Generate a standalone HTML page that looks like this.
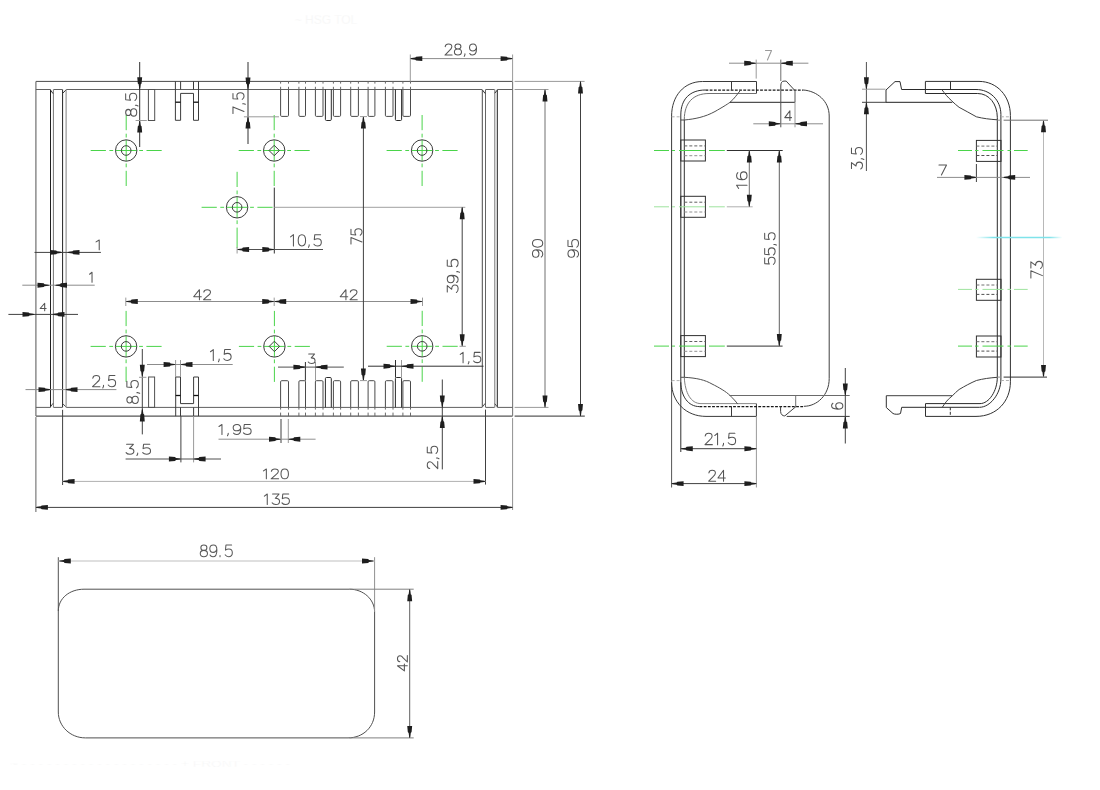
<!DOCTYPE html>
<html><head><meta charset="utf-8"><title>drawing</title>
<style>
html,body{margin:0;padding:0;background:#ffffff;}
body{width:1100px;height:790px;overflow:hidden;}
svg{display:block;}
text{font-family:"Liberation Sans",sans-serif;stroke:#fff;stroke-width:0.4px;}
.tx{opacity:0.995}
</style></head><body>
<svg width="1100" height="790" viewBox="0 0 1100 790">
<defs><linearGradient id="cy" x1="976" y1="0" x2="1062.5" y2="0" gradientUnits="userSpaceOnUse">
<stop offset="0" stop-color="#7fe3ea" stop-opacity="0"/><stop offset="0.2" stop-color="#7fe3ea" stop-opacity="1"/>
<stop offset="0.85" stop-color="#7fe3ea" stop-opacity="1"/><stop offset="1" stop-color="#7fe3ea" stop-opacity="0"/></linearGradient></defs>
<rect x="0" y="0" width="1100" height="790" fill="#ffffff"/>
<line x1="35.9" y1="81.4" x2="512.6" y2="81.4" stroke="#4a4a4a" stroke-width="1"/>
<line x1="35.9" y1="416.1" x2="512.6" y2="416.1" stroke="#2a2a2a" stroke-width="1"/>
<line x1="35.9" y1="81.4" x2="35.9" y2="416.1" stroke="#707070" stroke-width="1.2"/>
<line x1="512.6" y1="81.4" x2="512.6" y2="416.1" stroke="#7a7a7a" stroke-width="1.1"/>
<line x1="35.9" y1="89.5" x2="50.3" y2="89.5" stroke="#606060" stroke-width="1"/>
<line x1="35.9" y1="407.4" x2="50.3" y2="407.4" stroke="#606060" stroke-width="1"/>
<line x1="53.5" y1="89.5" x2="62.3" y2="89.5" stroke="#606060" stroke-width="1"/>
<line x1="53.5" y1="407.4" x2="62.3" y2="407.4" stroke="#606060" stroke-width="1"/>
<line x1="66.2" y1="89.5" x2="482" y2="89.5" stroke="#606060" stroke-width="1"/>
<line x1="66.2" y1="407.4" x2="482" y2="407.4" stroke="#606060" stroke-width="1"/>
<line x1="485.7" y1="89.5" x2="494.6" y2="89.5" stroke="#606060" stroke-width="1"/>
<line x1="485.7" y1="407.4" x2="494.6" y2="407.4" stroke="#606060" stroke-width="1"/>
<line x1="497.5" y1="89.5" x2="512.6" y2="89.5" stroke="#606060" stroke-width="1"/>
<line x1="497.5" y1="407.4" x2="512.6" y2="407.4" stroke="#606060" stroke-width="1"/>
<line x1="50.5" y1="89.5" x2="50.5" y2="407.4" stroke="#202020" stroke-width="1"/>
<line x1="53.4" y1="89.5" x2="53.4" y2="407.4" stroke="#777777" stroke-width="1"/>
<line x1="62.6" y1="89.5" x2="62.6" y2="407.4" stroke="#202020" stroke-width="1"/>
<line x1="66.1" y1="89.5" x2="66.1" y2="407.4" stroke="#808080" stroke-width="1"/>
<line x1="482.3" y1="89.5" x2="482.3" y2="407.4" stroke="#4a4a4a" stroke-width="1"/>
<line x1="485.5" y1="89.5" x2="485.5" y2="407.4" stroke="#666666" stroke-width="1"/>
<line x1="494.8" y1="89.5" x2="494.8" y2="407.4" stroke="#777777" stroke-width="1"/>
<line x1="497.3" y1="89.5" x2="497.3" y2="407.4" stroke="#202020" stroke-width="1"/>
<line x1="50.7" y1="90.2" x2="53" y2="93.6" stroke="#303030" stroke-width="1"/>
<line x1="50.7" y1="406.7" x2="53" y2="403.3" stroke="#505050" stroke-width="1"/>
<line x1="62.8" y1="93.2" x2="65.7" y2="90.2" stroke="#303030" stroke-width="1"/>
<line x1="62.8" y1="403.7" x2="65.7" y2="406.7" stroke="#505050" stroke-width="1"/>
<line x1="482.7" y1="90.2" x2="485.1" y2="93.5" stroke="#303030" stroke-width="1"/>
<line x1="482.7" y1="406.7" x2="485.1" y2="403.4" stroke="#505050" stroke-width="1"/>
<line x1="494.8" y1="93.2" x2="497.2" y2="90.2" stroke="#303030" stroke-width="1"/>
<line x1="494.8" y1="403.7" x2="497.2" y2="406.7" stroke="#505050" stroke-width="1"/>
<path d="M280.6,89.5 V115.3 Q280.6,116.4 281.7,116.4 H287.4 Q288.5,116.4 288.5,115.3 V89.5" fill="none" stroke="#4a4a4a" stroke-width="1"/>
<line x1="280.6" y1="81.4" x2="280.6" y2="83.6" stroke="#6a6a6a" stroke-width="1"/>
<line x1="280.6" y1="86.8" x2="280.6" y2="89.5" stroke="#6a6a6a" stroke-width="1"/>
<line x1="288.5" y1="81.4" x2="288.5" y2="83.6" stroke="#6a6a6a" stroke-width="1"/>
<line x1="288.5" y1="86.8" x2="288.5" y2="89.5" stroke="#6a6a6a" stroke-width="1"/>
<path d="M280.6,407.4 V381.8 Q280.6,380.7 281.7,380.7 H287.4 Q288.5,380.7 288.5,381.8 V407.4" fill="none" stroke="#4a4a4a" stroke-width="1"/>
<line x1="280.6" y1="407.4" x2="280.6" y2="409.6" stroke="#6a6a6a" stroke-width="1"/>
<line x1="280.6" y1="412.6" x2="280.6" y2="416.1" stroke="#6a6a6a" stroke-width="1"/>
<line x1="288.5" y1="407.4" x2="288.5" y2="409.6" stroke="#6a6a6a" stroke-width="1"/>
<line x1="288.5" y1="412.6" x2="288.5" y2="416.1" stroke="#6a6a6a" stroke-width="1"/>
<path d="M298.9,89.5 V115.3 Q298.9,116.4 300,116.4 H304.4 Q305.5,116.4 305.5,115.3 V89.5" fill="none" stroke="#4a4a4a" stroke-width="1"/>
<line x1="298.9" y1="81.4" x2="298.9" y2="83.6" stroke="#6a6a6a" stroke-width="1"/>
<line x1="298.9" y1="86.8" x2="298.9" y2="89.5" stroke="#6a6a6a" stroke-width="1"/>
<line x1="305.5" y1="81.4" x2="305.5" y2="83.6" stroke="#6a6a6a" stroke-width="1"/>
<line x1="305.5" y1="86.8" x2="305.5" y2="89.5" stroke="#6a6a6a" stroke-width="1"/>
<path d="M298.9,407.4 V381.8 Q298.9,380.7 300,380.7 H304.4 Q305.5,380.7 305.5,381.8 V407.4" fill="none" stroke="#4a4a4a" stroke-width="1"/>
<line x1="298.9" y1="407.4" x2="298.9" y2="409.6" stroke="#6a6a6a" stroke-width="1"/>
<line x1="298.9" y1="412.6" x2="298.9" y2="416.1" stroke="#6a6a6a" stroke-width="1"/>
<line x1="305.5" y1="407.4" x2="305.5" y2="409.6" stroke="#6a6a6a" stroke-width="1"/>
<line x1="305.5" y1="412.6" x2="305.5" y2="416.1" stroke="#6a6a6a" stroke-width="1"/>
<path d="M315.4,89.5 V115.3 Q315.4,116.4 316.5,116.4 H321.9 Q323,116.4 323,115.3 V89.5" fill="none" stroke="#4a4a4a" stroke-width="1"/>
<line x1="315.4" y1="81.4" x2="315.4" y2="83.6" stroke="#6a6a6a" stroke-width="1"/>
<line x1="315.4" y1="86.8" x2="315.4" y2="89.5" stroke="#6a6a6a" stroke-width="1"/>
<line x1="323" y1="81.4" x2="323" y2="83.6" stroke="#6a6a6a" stroke-width="1"/>
<line x1="323" y1="86.8" x2="323" y2="89.5" stroke="#6a6a6a" stroke-width="1"/>
<path d="M315.4,407.4 V381.8 Q315.4,380.7 316.5,380.7 H321.9 Q323,380.7 323,381.8 V407.4" fill="none" stroke="#4a4a4a" stroke-width="1"/>
<line x1="315.4" y1="407.4" x2="315.4" y2="409.6" stroke="#6a6a6a" stroke-width="1"/>
<line x1="315.4" y1="412.6" x2="315.4" y2="416.1" stroke="#6a6a6a" stroke-width="1"/>
<line x1="323" y1="407.4" x2="323" y2="409.6" stroke="#6a6a6a" stroke-width="1"/>
<line x1="323" y1="412.6" x2="323" y2="416.1" stroke="#6a6a6a" stroke-width="1"/>
<path d="M325.4,89.5 V119.4 Q325.4,120.5 326.5,120.5 H330.2 Q331.3,120.5 331.3,119.4 V89.5" fill="none" stroke="#2a2a2a" stroke-width="1"/>
<path d="M325.4,407.4 V378.6 Q325.4,377.5 326.5,377.5 H330.2 Q331.3,377.5 331.3,378.6 V407.4" fill="none" stroke="#2a2a2a" stroke-width="1"/>
<path d="M333.4,89.5 V115.3 Q333.4,116.4 334.5,116.4 H339.5 Q340.6,116.4 340.6,115.3 V89.5" fill="none" stroke="#4a4a4a" stroke-width="1"/>
<line x1="333.4" y1="81.4" x2="333.4" y2="83.6" stroke="#6a6a6a" stroke-width="1"/>
<line x1="333.4" y1="86.8" x2="333.4" y2="89.5" stroke="#6a6a6a" stroke-width="1"/>
<line x1="340.6" y1="81.4" x2="340.6" y2="83.6" stroke="#6a6a6a" stroke-width="1"/>
<line x1="340.6" y1="86.8" x2="340.6" y2="89.5" stroke="#6a6a6a" stroke-width="1"/>
<path d="M333.4,407.4 V381.8 Q333.4,380.7 334.5,380.7 H339.5 Q340.6,380.7 340.6,381.8 V407.4" fill="none" stroke="#4a4a4a" stroke-width="1"/>
<line x1="333.4" y1="407.4" x2="333.4" y2="409.6" stroke="#6a6a6a" stroke-width="1"/>
<line x1="333.4" y1="412.6" x2="333.4" y2="416.1" stroke="#6a6a6a" stroke-width="1"/>
<line x1="340.6" y1="407.4" x2="340.6" y2="409.6" stroke="#6a6a6a" stroke-width="1"/>
<line x1="340.6" y1="412.6" x2="340.6" y2="416.1" stroke="#6a6a6a" stroke-width="1"/>
<path d="M350.7,89.5 V115.3 Q350.7,116.4 351.8,116.4 H357.3 Q358.4,116.4 358.4,115.3 V89.5" fill="none" stroke="#4a4a4a" stroke-width="1"/>
<line x1="350.7" y1="81.4" x2="350.7" y2="83.6" stroke="#6a6a6a" stroke-width="1"/>
<line x1="350.7" y1="86.8" x2="350.7" y2="89.5" stroke="#6a6a6a" stroke-width="1"/>
<line x1="358.4" y1="81.4" x2="358.4" y2="83.6" stroke="#6a6a6a" stroke-width="1"/>
<line x1="358.4" y1="86.8" x2="358.4" y2="89.5" stroke="#6a6a6a" stroke-width="1"/>
<path d="M350.7,407.4 V381.8 Q350.7,380.7 351.8,380.7 H357.3 Q358.4,380.7 358.4,381.8 V407.4" fill="none" stroke="#4a4a4a" stroke-width="1"/>
<line x1="350.7" y1="407.4" x2="350.7" y2="409.6" stroke="#6a6a6a" stroke-width="1"/>
<line x1="350.7" y1="412.6" x2="350.7" y2="416.1" stroke="#6a6a6a" stroke-width="1"/>
<line x1="358.4" y1="407.4" x2="358.4" y2="409.6" stroke="#6a6a6a" stroke-width="1"/>
<line x1="358.4" y1="412.6" x2="358.4" y2="416.1" stroke="#6a6a6a" stroke-width="1"/>
<path d="M368.1,89.5 V115.3 Q368.1,116.4 369.2,116.4 H373.8 Q374.9,116.4 374.9,115.3 V89.5" fill="none" stroke="#4a4a4a" stroke-width="1"/>
<line x1="368.1" y1="81.4" x2="368.1" y2="83.6" stroke="#6a6a6a" stroke-width="1"/>
<line x1="368.1" y1="86.8" x2="368.1" y2="89.5" stroke="#6a6a6a" stroke-width="1"/>
<line x1="374.9" y1="81.4" x2="374.9" y2="83.6" stroke="#6a6a6a" stroke-width="1"/>
<line x1="374.9" y1="86.8" x2="374.9" y2="89.5" stroke="#6a6a6a" stroke-width="1"/>
<path d="M368.1,407.4 V381.8 Q368.1,380.7 369.2,380.7 H373.8 Q374.9,380.7 374.9,381.8 V407.4" fill="none" stroke="#4a4a4a" stroke-width="1"/>
<line x1="368.1" y1="407.4" x2="368.1" y2="409.6" stroke="#6a6a6a" stroke-width="1"/>
<line x1="368.1" y1="412.6" x2="368.1" y2="416.1" stroke="#6a6a6a" stroke-width="1"/>
<line x1="374.9" y1="407.4" x2="374.9" y2="409.6" stroke="#6a6a6a" stroke-width="1"/>
<line x1="374.9" y1="412.6" x2="374.9" y2="416.1" stroke="#6a6a6a" stroke-width="1"/>
<path d="M385.4,89.5 V115.3 Q385.4,116.4 386.5,116.4 H391.9 Q393,116.4 393,115.3 V89.5" fill="none" stroke="#4a4a4a" stroke-width="1"/>
<line x1="385.4" y1="81.4" x2="385.4" y2="83.6" stroke="#6a6a6a" stroke-width="1"/>
<line x1="385.4" y1="86.8" x2="385.4" y2="89.5" stroke="#6a6a6a" stroke-width="1"/>
<line x1="393" y1="81.4" x2="393" y2="83.6" stroke="#6a6a6a" stroke-width="1"/>
<line x1="393" y1="86.8" x2="393" y2="89.5" stroke="#6a6a6a" stroke-width="1"/>
<path d="M385.4,407.4 V381.8 Q385.4,380.7 386.5,380.7 H391.9 Q393,380.7 393,381.8 V407.4" fill="none" stroke="#4a4a4a" stroke-width="1"/>
<line x1="385.4" y1="407.4" x2="385.4" y2="409.6" stroke="#6a6a6a" stroke-width="1"/>
<line x1="385.4" y1="412.6" x2="385.4" y2="416.1" stroke="#6a6a6a" stroke-width="1"/>
<line x1="393" y1="407.4" x2="393" y2="409.6" stroke="#6a6a6a" stroke-width="1"/>
<line x1="393" y1="412.6" x2="393" y2="416.1" stroke="#6a6a6a" stroke-width="1"/>
<path d="M395.4,89.5 V119.4 Q395.4,120.5 396.5,120.5 H400.5 Q401.6,120.5 401.6,119.4 V89.5" fill="none" stroke="#2a2a2a" stroke-width="1"/>
<path d="M395.4,407.4 V378.6 Q395.4,377.5 396.5,377.5 H400.5 Q401.6,377.5 401.6,378.6 V407.4" fill="none" stroke="#2a2a2a" stroke-width="1"/>
<path d="M402.9,89.5 V115.3 Q402.9,116.4 404,116.4 H409.4 Q410.5,116.4 410.5,115.3 V89.5" fill="none" stroke="#4a4a4a" stroke-width="1"/>
<line x1="402.9" y1="81.4" x2="402.9" y2="83.6" stroke="#6a6a6a" stroke-width="1"/>
<line x1="402.9" y1="86.8" x2="402.9" y2="89.5" stroke="#6a6a6a" stroke-width="1"/>
<line x1="410.5" y1="81.4" x2="410.5" y2="83.6" stroke="#6a6a6a" stroke-width="1"/>
<line x1="410.5" y1="86.8" x2="410.5" y2="89.5" stroke="#6a6a6a" stroke-width="1"/>
<path d="M402.9,407.4 V381.8 Q402.9,380.7 404,380.7 H409.4 Q410.5,380.7 410.5,381.8 V407.4" fill="none" stroke="#4a4a4a" stroke-width="1"/>
<line x1="402.9" y1="407.4" x2="402.9" y2="409.6" stroke="#6a6a6a" stroke-width="1"/>
<line x1="402.9" y1="412.6" x2="402.9" y2="416.1" stroke="#6a6a6a" stroke-width="1"/>
<line x1="410.5" y1="407.4" x2="410.5" y2="409.6" stroke="#6a6a6a" stroke-width="1"/>
<line x1="410.5" y1="412.6" x2="410.5" y2="416.1" stroke="#6a6a6a" stroke-width="1"/>
<rect x="148.4" y="89.5" width="6.3" height="31" fill="none" stroke="#505050" stroke-width="1"/>
<rect x="148.6" y="377" width="6.0" height="30.4" fill="none" stroke="#505050" stroke-width="1"/>
<line x1="175.4" y1="81.4" x2="175.4" y2="120.3" stroke="#3c3c3c" stroke-width="1"/>
<line x1="198.5" y1="81.4" x2="198.5" y2="120.3" stroke="#3c3c3c" stroke-width="1"/>
<line x1="175.4" y1="120.3" x2="180.6" y2="120.3" stroke="#3c3c3c" stroke-width="1"/>
<line x1="193.5" y1="120.3" x2="198.5" y2="120.3" stroke="#3c3c3c" stroke-width="1"/>
<line x1="180.6" y1="81.4" x2="180.6" y2="89.5" stroke="#3c3c3c" stroke-width="1"/>
<line x1="193.5" y1="81.4" x2="193.5" y2="89.5" stroke="#3c3c3c" stroke-width="1"/>
<line x1="180.6" y1="93.4" x2="180.6" y2="120.3" stroke="#3c3c3c" stroke-width="1"/>
<line x1="193.5" y1="93.4" x2="193.5" y2="120.3" stroke="#3c3c3c" stroke-width="1"/>
<line x1="180.6" y1="93.4" x2="193.5" y2="93.4" stroke="#3c3c3c" stroke-width="1"/>
<line x1="175.4" y1="102.2" x2="180.6" y2="102.2" stroke="#101010" stroke-width="1.3"/>
<line x1="193.5" y1="102.2" x2="198.5" y2="102.2" stroke="#101010" stroke-width="1.3"/>
<line x1="175.7" y1="416.1" x2="175.7" y2="377" stroke="#3c3c3c" stroke-width="1"/>
<line x1="198.5" y1="416.1" x2="198.5" y2="377" stroke="#3c3c3c" stroke-width="1"/>
<line x1="175.7" y1="377" x2="180.5" y2="377" stroke="#3c3c3c" stroke-width="1"/>
<line x1="193.6" y1="377" x2="198.5" y2="377" stroke="#3c3c3c" stroke-width="1"/>
<line x1="180.5" y1="416.1" x2="180.5" y2="407.4" stroke="#3c3c3c" stroke-width="1"/>
<line x1="193.6" y1="416.1" x2="193.6" y2="407.4" stroke="#3c3c3c" stroke-width="1"/>
<line x1="180.5" y1="403.6" x2="180.5" y2="377" stroke="#3c3c3c" stroke-width="1"/>
<line x1="193.6" y1="403.6" x2="193.6" y2="377" stroke="#3c3c3c" stroke-width="1"/>
<line x1="180.5" y1="403.6" x2="193.6" y2="403.6" stroke="#3c3c3c" stroke-width="1"/>
<line x1="175.7" y1="395.5" x2="180.5" y2="395.5" stroke="#101010" stroke-width="1.3"/>
<line x1="193.6" y1="395.5" x2="198.5" y2="395.5" stroke="#101010" stroke-width="1.3"/>
<line x1="115.5" y1="150.5" x2="136.9" y2="150.5" stroke="#4ad44a" stroke-width="1"/>
<line x1="139.2" y1="150.5" x2="143" y2="150.5" stroke="#4ad44a" stroke-width="1"/>
<line x1="146.5" y1="150.5" x2="161.7" y2="150.5" stroke="#4ad44a" stroke-width="1"/>
<line x1="109.4" y1="150.5" x2="113.2" y2="150.5" stroke="#4ad44a" stroke-width="1"/>
<line x1="90.7" y1="150.5" x2="105.9" y2="150.5" stroke="#4ad44a" stroke-width="1"/>
<line x1="126.2" y1="139.8" x2="126.2" y2="161.2" stroke="#4ad44a" stroke-width="1"/>
<line x1="126.2" y1="163.5" x2="126.2" y2="167.3" stroke="#4ad44a" stroke-width="1"/>
<line x1="126.2" y1="170.8" x2="126.2" y2="186" stroke="#4ad44a" stroke-width="1"/>
<line x1="126.2" y1="133.7" x2="126.2" y2="137.5" stroke="#4ad44a" stroke-width="1"/>
<line x1="126.2" y1="115" x2="126.2" y2="130.2" stroke="#4ad44a" stroke-width="1"/>
<circle cx="126.2" cy="150.5" r="10.7" fill="none" stroke="#3c3c3c" stroke-width="1"/>
<circle cx="126.2" cy="150.5" r="4.8" fill="none" stroke="#3c3c3c" stroke-width="1"/>
<line x1="263.5" y1="150.5" x2="284.9" y2="150.5" stroke="#4ad44a" stroke-width="1"/>
<line x1="287.2" y1="150.5" x2="291" y2="150.5" stroke="#4ad44a" stroke-width="1"/>
<line x1="294.5" y1="150.5" x2="309.7" y2="150.5" stroke="#4ad44a" stroke-width="1"/>
<line x1="257.4" y1="150.5" x2="261.2" y2="150.5" stroke="#4ad44a" stroke-width="1"/>
<line x1="238.7" y1="150.5" x2="253.9" y2="150.5" stroke="#4ad44a" stroke-width="1"/>
<line x1="274.2" y1="139.8" x2="274.2" y2="161.2" stroke="#4ad44a" stroke-width="1"/>
<line x1="274.2" y1="163.5" x2="274.2" y2="167.3" stroke="#4ad44a" stroke-width="1"/>
<line x1="274.2" y1="170.8" x2="274.2" y2="186" stroke="#4ad44a" stroke-width="1"/>
<line x1="274.2" y1="133.7" x2="274.2" y2="137.5" stroke="#4ad44a" stroke-width="1"/>
<line x1="274.2" y1="115" x2="274.2" y2="130.2" stroke="#4ad44a" stroke-width="1"/>
<circle cx="274.2" cy="150.5" r="10.7" fill="none" stroke="#3c3c3c" stroke-width="1"/>
<polygon points="274.2,145.3 279.4,150.5 274.2,155.7 269,150.5" fill="none" stroke="#3c3c3c" stroke-width="1"/>
<line x1="411.4" y1="150.5" x2="432.8" y2="150.5" stroke="#4ad44a" stroke-width="1"/>
<line x1="435.1" y1="150.5" x2="438.9" y2="150.5" stroke="#4ad44a" stroke-width="1"/>
<line x1="442.4" y1="150.5" x2="457.6" y2="150.5" stroke="#4ad44a" stroke-width="1"/>
<line x1="405.3" y1="150.5" x2="409.1" y2="150.5" stroke="#4ad44a" stroke-width="1"/>
<line x1="386.6" y1="150.5" x2="401.8" y2="150.5" stroke="#4ad44a" stroke-width="1"/>
<line x1="422.1" y1="139.8" x2="422.1" y2="161.2" stroke="#4ad44a" stroke-width="1"/>
<line x1="422.1" y1="163.5" x2="422.1" y2="167.3" stroke="#4ad44a" stroke-width="1"/>
<line x1="422.1" y1="170.8" x2="422.1" y2="186" stroke="#4ad44a" stroke-width="1"/>
<line x1="422.1" y1="133.7" x2="422.1" y2="137.5" stroke="#4ad44a" stroke-width="1"/>
<line x1="422.1" y1="115" x2="422.1" y2="130.2" stroke="#4ad44a" stroke-width="1"/>
<circle cx="422.1" cy="150.5" r="10.7" fill="none" stroke="#3c3c3c" stroke-width="1"/>
<circle cx="422.1" cy="150.5" r="4.8" fill="none" stroke="#3c3c3c" stroke-width="1"/>
<line x1="226.4" y1="207.3" x2="247.8" y2="207.3" stroke="#4ad44a" stroke-width="1"/>
<line x1="250.1" y1="207.3" x2="253.9" y2="207.3" stroke="#4ad44a" stroke-width="1"/>
<line x1="257.4" y1="207.3" x2="272.6" y2="207.3" stroke="#4ad44a" stroke-width="1"/>
<line x1="220.3" y1="207.3" x2="224.1" y2="207.3" stroke="#4ad44a" stroke-width="1"/>
<line x1="201.6" y1="207.3" x2="216.8" y2="207.3" stroke="#4ad44a" stroke-width="1"/>
<line x1="237.1" y1="196.6" x2="237.1" y2="218" stroke="#4ad44a" stroke-width="1"/>
<line x1="237.1" y1="220.3" x2="237.1" y2="224.1" stroke="#4ad44a" stroke-width="1"/>
<line x1="237.1" y1="227.6" x2="237.1" y2="247.8" stroke="#4ad44a" stroke-width="1"/>
<line x1="237.1" y1="190.5" x2="237.1" y2="194.3" stroke="#4ad44a" stroke-width="1"/>
<line x1="237.1" y1="171.8" x2="237.1" y2="187" stroke="#4ad44a" stroke-width="1"/>
<circle cx="237.1" cy="207.3" r="10.7" fill="none" stroke="#3c3c3c" stroke-width="1"/>
<circle cx="237.1" cy="207.3" r="4.8" fill="none" stroke="#3c3c3c" stroke-width="1"/>
<line x1="115.4" y1="346.4" x2="136.8" y2="346.4" stroke="#4ad44a" stroke-width="1"/>
<line x1="139.1" y1="346.4" x2="142.9" y2="346.4" stroke="#4ad44a" stroke-width="1"/>
<line x1="146.4" y1="346.4" x2="161.6" y2="346.4" stroke="#4ad44a" stroke-width="1"/>
<line x1="109.3" y1="346.4" x2="113.1" y2="346.4" stroke="#4ad44a" stroke-width="1"/>
<line x1="90.6" y1="346.4" x2="105.8" y2="346.4" stroke="#4ad44a" stroke-width="1"/>
<line x1="126.1" y1="335.7" x2="126.1" y2="357.1" stroke="#4ad44a" stroke-width="1"/>
<line x1="126.1" y1="359.4" x2="126.1" y2="363.2" stroke="#4ad44a" stroke-width="1"/>
<line x1="126.1" y1="366.7" x2="126.1" y2="381.9" stroke="#4ad44a" stroke-width="1"/>
<line x1="126.1" y1="329.6" x2="126.1" y2="333.4" stroke="#4ad44a" stroke-width="1"/>
<line x1="126.1" y1="310.9" x2="126.1" y2="326.1" stroke="#4ad44a" stroke-width="1"/>
<circle cx="126.1" cy="346.4" r="10.7" fill="none" stroke="#3c3c3c" stroke-width="1"/>
<circle cx="126.1" cy="346.4" r="4.8" fill="none" stroke="#3c3c3c" stroke-width="1"/>
<line x1="263.7" y1="346.4" x2="285.1" y2="346.4" stroke="#4ad44a" stroke-width="1"/>
<line x1="287.4" y1="346.4" x2="291.2" y2="346.4" stroke="#4ad44a" stroke-width="1"/>
<line x1="294.7" y1="346.4" x2="309.9" y2="346.4" stroke="#4ad44a" stroke-width="1"/>
<line x1="257.6" y1="346.4" x2="261.4" y2="346.4" stroke="#4ad44a" stroke-width="1"/>
<line x1="238.9" y1="346.4" x2="254.1" y2="346.4" stroke="#4ad44a" stroke-width="1"/>
<line x1="274.4" y1="335.7" x2="274.4" y2="357.1" stroke="#4ad44a" stroke-width="1"/>
<line x1="274.4" y1="359.4" x2="274.4" y2="363.2" stroke="#4ad44a" stroke-width="1"/>
<line x1="274.4" y1="366.7" x2="274.4" y2="381.9" stroke="#4ad44a" stroke-width="1"/>
<line x1="274.4" y1="329.6" x2="274.4" y2="333.4" stroke="#4ad44a" stroke-width="1"/>
<line x1="274.4" y1="310.9" x2="274.4" y2="326.1" stroke="#4ad44a" stroke-width="1"/>
<circle cx="274.4" cy="346.4" r="10.7" fill="none" stroke="#3c3c3c" stroke-width="1"/>
<polygon points="274.4,341.2 279.6,346.4 274.4,351.6 269.2,346.4" fill="none" stroke="#3c3c3c" stroke-width="1"/>
<line x1="411.5" y1="346.3" x2="432.9" y2="346.3" stroke="#4ad44a" stroke-width="1"/>
<line x1="435.2" y1="346.3" x2="439" y2="346.3" stroke="#4ad44a" stroke-width="1"/>
<line x1="442.5" y1="346.3" x2="457.7" y2="346.3" stroke="#4ad44a" stroke-width="1"/>
<line x1="405.4" y1="346.3" x2="409.2" y2="346.3" stroke="#4ad44a" stroke-width="1"/>
<line x1="386.7" y1="346.3" x2="401.9" y2="346.3" stroke="#4ad44a" stroke-width="1"/>
<line x1="422.2" y1="335.6" x2="422.2" y2="357" stroke="#4ad44a" stroke-width="1"/>
<line x1="422.2" y1="359.3" x2="422.2" y2="363.1" stroke="#4ad44a" stroke-width="1"/>
<line x1="422.2" y1="366.6" x2="422.2" y2="381.8" stroke="#4ad44a" stroke-width="1"/>
<line x1="422.2" y1="329.5" x2="422.2" y2="333.3" stroke="#4ad44a" stroke-width="1"/>
<line x1="422.2" y1="310.8" x2="422.2" y2="326" stroke="#4ad44a" stroke-width="1"/>
<circle cx="422.2" cy="346.3" r="10.7" fill="none" stroke="#3c3c3c" stroke-width="1"/>
<circle cx="422.2" cy="346.3" r="4.8" fill="none" stroke="#3c3c3c" stroke-width="1"/>
<line x1="410.3" y1="54.5" x2="410.3" y2="81.4" stroke="#9a9a9a" stroke-width="1"/>
<line x1="512.6" y1="54.5" x2="512.6" y2="81.4" stroke="#9a9a9a" stroke-width="1"/>
<line x1="410.3" y1="58.6" x2="512.6" y2="58.6" stroke="#8c8c8c" stroke-width="1"/>
<polygon points="410.3,58.6 411.5,59.15 415.3,59.65 416.1,60.5 422.3,61.05 422.3,56.15 416.1,56.7 415.3,57.55 411.5,58.05" fill="#1e1e1e"/>
<polygon points="512.6,58.6 511.4,59.15 507.6,59.65 506.8,60.5 500.6,61.05 500.6,56.15 506.8,56.7 507.6,57.55 511.4,58.05" fill="#1e1e1e"/>
<line x1="139.7" y1="62" x2="139.7" y2="147" stroke="#303030" stroke-width="1"/>
<polygon points="139.7,89.3 140.25,88.1 140.75,84.3 141.6,83.5 142.15,77.3 137.25,77.3 137.8,83.5 138.65,84.3 139.15,88.1" fill="#1e1e1e"/>
<polygon points="139.7,120.5 140.25,121.7 140.75,125.5 141.6,126.3 142.15,132.5 137.25,132.5 137.8,126.3 138.65,125.5 139.15,121.7" fill="#1e1e1e"/>
<line x1="135.6" y1="120.5" x2="146.8" y2="120.5" stroke="#9a9a9a" stroke-width="1"/>
<line x1="248" y1="62" x2="248" y2="144" stroke="#303030" stroke-width="1"/>
<polygon points="248,89.4 248.55,88.2 249.05,84.4 249.9,83.6 250.45,77.4 245.55,77.4 246.1,83.6 246.95,84.4 247.45,88.2" fill="#1e1e1e"/>
<polygon points="248,116.6 248.55,117.8 249.05,121.6 249.9,122.4 250.45,128.6 245.55,128.6 246.1,122.4 246.95,121.6 247.45,117.8" fill="#1e1e1e"/>
<line x1="243.9" y1="116.8" x2="279" y2="116.8" stroke="#9a9a9a" stroke-width="1"/>
<line x1="34.5" y1="252.4" x2="100.9" y2="252.4" stroke="#404040" stroke-width="1"/>
<polygon points="62,252.4 60.8,252.95 57,253.45 56.2,254.3 50,254.85 50,249.95 56.2,250.5 57,251.35 60.8,251.85" fill="#1e1e1e"/>
<polygon points="67.5,252.4 68.7,252.95 72.5,253.45 73.3,254.3 79.5,254.85 79.5,249.95 73.3,250.5 72.5,251.35 68.7,251.85" fill="#1e1e1e"/>
<line x1="22.3" y1="285.2" x2="94.7" y2="285.2" stroke="#8c8c8c" stroke-width="1"/>
<polygon points="49.5,285.2 48.3,285.75 44.5,286.25 43.7,287.1 37.5,287.65 37.5,282.75 43.7,283.3 44.5,284.15 48.3,284.65" fill="#1e1e1e"/>
<polygon points="55,285.2 56.2,285.75 60,286.25 60.8,287.1 67,287.65 67,282.75 60.8,283.3 60,284.15 56.2,284.65" fill="#1e1e1e"/>
<line x1="8.4" y1="314.4" x2="78" y2="314.4" stroke="#404040" stroke-width="1"/>
<polygon points="34.5,314.4 33.3,314.95 29.5,315.45 28.7,316.3 22.5,316.85 22.5,311.95 28.7,312.5 29.5,313.35 33.3,313.85" fill="#1e1e1e"/>
<polygon points="52.5,314.4 53.7,314.95 57.5,315.45 58.3,316.3 64.5,316.85 64.5,311.95 58.3,312.5 57.5,313.35 53.7,313.85" fill="#1e1e1e"/>
<line x1="125.8" y1="297.6" x2="125.8" y2="306" stroke="#9a9a9a" stroke-width="1"/>
<line x1="274.2" y1="297.6" x2="274.2" y2="306" stroke="#9a9a9a" stroke-width="1"/>
<line x1="422.5" y1="297.6" x2="422.5" y2="306" stroke="#9a9a9a" stroke-width="1"/>
<line x1="125.8" y1="301.5" x2="422.5" y2="301.5" stroke="#8c8c8c" stroke-width="1"/>
<polygon points="125.8,301.5 127,302.05 130.8,302.55 131.6,303.4 137.8,303.95 137.8,299.05 131.6,299.6 130.8,300.45 127,300.95" fill="#1e1e1e"/>
<polygon points="274.2,301.5 273,302.05 269.2,302.55 268.4,303.4 262.2,303.95 262.2,299.05 268.4,299.6 269.2,300.45 273,300.95" fill="#1e1e1e"/>
<polygon points="274.2,301.5 275.4,302.05 279.2,302.55 280,303.4 286.2,303.95 286.2,299.05 280,299.6 279.2,300.45 275.4,300.95" fill="#1e1e1e"/>
<polygon points="422.5,301.5 421.3,302.05 417.5,302.55 416.7,303.4 410.5,303.95 410.5,299.05 416.7,299.6 417.5,300.45 421.3,300.95" fill="#1e1e1e"/>
<line x1="274.3" y1="187.6" x2="274.3" y2="253.5" stroke="#303030" stroke-width="1"/>
<line x1="237.1" y1="249.5" x2="323" y2="249.5" stroke="#505050" stroke-width="1"/>
<polygon points="237.1,249.5 238.3,250.05 242.1,250.55 242.9,251.4 249.1,251.95 249.1,247.05 242.9,247.6 242.1,248.45 238.3,248.95" fill="#1e1e1e"/>
<polygon points="274.3,249.5 273.1,250.05 269.3,250.55 268.5,251.4 262.3,251.95 262.3,247.05 268.5,247.6 269.3,248.45 273.1,248.95" fill="#1e1e1e"/>
<line x1="237.1" y1="247" x2="237.1" y2="253.5" stroke="#9a9a9a" stroke-width="1"/>
<line x1="274.3" y1="207.3" x2="465.3" y2="207.3" stroke="#a0a0a0" stroke-width="1"/>
<line x1="462.2" y1="207.3" x2="462.2" y2="346.3" stroke="#404040" stroke-width="1"/>
<polygon points="462.2,207.3 462.75,208.5 463.25,212.3 464.1,213.1 464.65,219.3 459.75,219.3 460.3,213.1 461.15,212.3 461.65,208.5" fill="#1e1e1e"/>
<polygon points="462.2,346.3 462.75,345.1 463.25,341.3 464.1,340.5 464.65,334.3 459.75,334.3 460.3,340.5 461.15,341.3 461.65,345.1" fill="#1e1e1e"/>
<line x1="459.5" y1="346.3" x2="465.8" y2="346.3" stroke="#9a9a9a" stroke-width="1"/>
<line x1="363.4" y1="116.6" x2="363.4" y2="380.6" stroke="#404040" stroke-width="1"/>
<polygon points="363.4,116.6 363.95,117.8 364.45,121.6 365.3,122.4 365.85,128.6 360.95,128.6 361.5,122.4 362.35,121.6 362.85,117.8" fill="#1e1e1e"/>
<polygon points="363.4,380.6 363.95,379.4 364.45,375.6 365.3,374.8 365.85,368.6 360.95,368.6 361.5,374.8 362.35,375.6 362.85,379.4" fill="#1e1e1e"/>
<line x1="360" y1="116.6" x2="367" y2="116.6" stroke="#9a9a9a" stroke-width="1"/>
<line x1="360" y1="380.6" x2="367" y2="380.6" stroke="#9a9a9a" stroke-width="1"/>
<line x1="514.6" y1="89.5" x2="548.5" y2="89.5" stroke="#9a9a9a" stroke-width="1"/>
<line x1="514.6" y1="407.4" x2="548.5" y2="407.4" stroke="#9a9a9a" stroke-width="1"/>
<line x1="545" y1="89.5" x2="545" y2="407.4" stroke="#707070" stroke-width="1"/>
<polygon points="545,89.5 545.55,90.7 546.05,94.5 546.9,95.3 547.45,101.5 542.55,101.5 543.1,95.3 543.95,94.5 544.45,90.7" fill="#1e1e1e"/>
<polygon points="545,407.4 545.55,406.2 546.05,402.4 546.9,401.6 547.45,395.4 542.55,395.4 543.1,401.6 543.95,402.4 544.45,406.2" fill="#1e1e1e"/>
<line x1="514.6" y1="81.4" x2="584.6" y2="81.4" stroke="#9a9a9a" stroke-width="1"/>
<line x1="514.6" y1="416.1" x2="584.8" y2="416.1" stroke="#303030" stroke-width="1"/>
<line x1="580.5" y1="81.4" x2="580.5" y2="416.1" stroke="#404040" stroke-width="1"/>
<polygon points="580.5,81.4 581.05,82.6 581.55,86.4 582.4,87.2 582.95,93.4 578.05,93.4 578.6,87.2 579.45,86.4 579.95,82.6" fill="#1e1e1e"/>
<polygon points="580.5,416.1 581.05,414.9 581.55,411.1 582.4,410.3 582.95,404.1 578.05,404.1 578.6,410.3 579.45,411.1 579.95,414.9" fill="#1e1e1e"/>
<line x1="175.6" y1="360" x2="175.6" y2="377" stroke="#9a9a9a" stroke-width="1"/>
<line x1="180.5" y1="360" x2="180.5" y2="377" stroke="#9a9a9a" stroke-width="1"/>
<line x1="147" y1="364.5" x2="232.7" y2="364.5" stroke="#8c8c8c" stroke-width="1"/>
<polygon points="175.6,364.5 174.4,365.05 170.6,365.55 169.8,366.4 163.6,366.95 163.6,362.05 169.8,362.6 170.6,363.45 174.4,363.95" fill="#1e1e1e"/>
<polygon points="180.5,364.5 181.7,365.05 185.5,365.55 186.3,366.4 192.5,366.95 192.5,362.05 186.3,362.6 185.5,363.45 181.7,363.95" fill="#1e1e1e"/>
<line x1="142.3" y1="349" x2="142.3" y2="434.4" stroke="#404040" stroke-width="1"/>
<polygon points="142.3,376.8 142.85,375.6 143.35,371.8 144.2,371 144.75,364.8 139.85,364.8 140.4,371 141.25,371.8 141.75,375.6" fill="#1e1e1e"/>
<polygon points="142.3,408.8 142.85,410 143.35,413.8 144.2,414.6 144.75,421.6 139.85,421.6 140.4,414.6 141.25,413.8 141.75,410" fill="#1e1e1e"/>
<line x1="139" y1="377.3" x2="146.4" y2="377.3" stroke="#9a9a9a" stroke-width="1"/>
<line x1="25.5" y1="389.6" x2="116.4" y2="389.6" stroke="#8c8c8c" stroke-width="1"/>
<polygon points="50.5,389.6 49.3,390.15 45.5,390.65 44.7,391.5 38.5,392.05 38.5,387.15 44.7,387.7 45.5,388.55 49.3,389.05" fill="#1e1e1e"/>
<polygon points="65.5,389.6 66.7,390.15 70.5,390.65 71.3,391.5 77.5,392.05 77.5,387.15 71.3,387.7 70.5,388.55 66.7,389.05" fill="#1e1e1e"/>
<line x1="305.4" y1="362" x2="305.4" y2="380.7" stroke="#303030" stroke-width="1"/>
<line x1="315.5" y1="362" x2="315.5" y2="380.7" stroke="#9a9a9a" stroke-width="1"/>
<line x1="278" y1="367.1" x2="343.8" y2="367.1" stroke="#505050" stroke-width="1"/>
<polygon points="305.4,367.1 304.2,367.65 300.4,368.15 299.6,369 293.4,369.55 293.4,364.65 299.6,365.2 300.4,366.05 304.2,366.55" fill="#1e1e1e"/>
<polygon points="315.5,367.1 316.7,367.65 320.5,368.15 321.3,369 327.5,369.55 327.5,364.65 321.3,365.2 320.5,366.05 316.7,366.55" fill="#1e1e1e"/>
<line x1="395.5" y1="360" x2="395.5" y2="377.5" stroke="#303030" stroke-width="1"/>
<line x1="401.5" y1="360" x2="401.5" y2="377.5" stroke="#9a9a9a" stroke-width="1"/>
<line x1="368" y1="366.2" x2="483.5" y2="366.2" stroke="#303030" stroke-width="1"/>
<polygon points="395.5,366.2 394.3,366.75 390.5,367.25 389.7,368.1 383.5,368.65 383.5,363.75 389.7,364.3 390.5,365.15 394.3,365.65" fill="#1e1e1e"/>
<polygon points="401.5,366.2 402.7,366.75 406.5,367.25 407.3,368.1 413.5,368.65 413.5,363.75 407.3,364.3 406.5,365.15 402.7,365.65" fill="#1e1e1e"/>
<line x1="442.3" y1="379.5" x2="442.3" y2="469.4" stroke="#404040" stroke-width="1"/>
<polygon points="442.3,407.4 442.85,406.2 443.35,402.4 444.2,401.6 444.75,395.4 439.85,395.4 440.4,401.6 441.25,402.4 441.75,406.2" fill="#1e1e1e"/>
<polygon points="442.3,416.1 442.85,417.3 443.35,421.1 444.2,421.9 444.75,428.1 439.85,428.1 440.4,421.9 441.25,421.1 441.75,417.3" fill="#1e1e1e"/>
<line x1="180.9" y1="416.1" x2="180.9" y2="462.4" stroke="#404040" stroke-width="1"/>
<line x1="193.6" y1="416.1" x2="193.6" y2="462.4" stroke="#9a9a9a" stroke-width="1"/>
<line x1="125.6" y1="459" x2="221" y2="459" stroke="#505050" stroke-width="1"/>
<polygon points="180.9,459 179.7,459.55 175.9,460.05 175.1,460.9 168.9,461.45 168.9,456.55 175.1,457.1 175.9,457.95 179.7,458.45" fill="#1e1e1e"/>
<polygon points="193.6,459 194.8,459.55 198.6,460.05 199.4,460.9 205.6,461.45 205.6,456.55 199.4,457.1 198.6,457.95 194.8,458.45" fill="#1e1e1e"/>
<line x1="281" y1="419" x2="281" y2="443" stroke="#404040" stroke-width="1"/>
<line x1="288.3" y1="419" x2="288.3" y2="443" stroke="#9a9a9a" stroke-width="1"/>
<line x1="218.5" y1="439.2" x2="315.6" y2="439.2" stroke="#909090" stroke-width="1"/>
<polygon points="281,439.2 279.8,439.75 276,440.25 275.2,441.1 269,441.65 269,436.75 275.2,437.3 276,438.15 279.8,438.65" fill="#1e1e1e"/>
<polygon points="288.3,439.2 289.5,439.75 293.3,440.25 294.1,441.1 300.3,441.65 300.3,436.75 294.1,437.3 293.3,438.15 289.5,438.65" fill="#1e1e1e"/>
<line x1="62.6" y1="409.8" x2="62.6" y2="485" stroke="#404040" stroke-width="1"/>
<line x1="485.5" y1="409.6" x2="485.5" y2="484.6" stroke="#404040" stroke-width="1"/>
<line x1="62.6" y1="481.4" x2="485.5" y2="481.4" stroke="#b0b0b0" stroke-width="1"/>
<polygon points="62.6,481.4 63.8,481.95 67.6,482.45 68.4,483.3 74.6,483.85 74.6,478.95 68.4,479.5 67.6,480.35 63.8,480.85" fill="#1e1e1e"/>
<polygon points="485.5,481.4 484.3,481.95 480.5,482.45 479.7,483.3 473.5,483.85 473.5,478.95 479.7,479.5 480.5,480.35 484.3,480.85" fill="#1e1e1e"/>
<line x1="35.9" y1="417.1" x2="35.9" y2="512" stroke="#606060" stroke-width="1"/>
<line x1="512.6" y1="418.1" x2="512.6" y2="510" stroke="#909090" stroke-width="1"/>
<line x1="35.9" y1="507.4" x2="512.6" y2="507.4" stroke="#404040" stroke-width="1"/>
<polygon points="35.9,507.4 37.1,507.95 40.9,508.45 41.7,509.3 47.9,509.85 47.9,504.95 41.7,505.5 40.9,506.35 37.1,506.85" fill="#1e1e1e"/>
<polygon points="512.6,507.4 511.4,507.95 507.6,508.45 506.8,509.3 500.6,509.85 500.6,504.95 506.8,505.5 507.6,506.35 511.4,506.85" fill="#1e1e1e"/>
<path d="M671.6,381.5 V116 C671.6,96 684,81.5 702.5,81.5 H756.5 V93.4" fill="none" stroke="#3a3a3a" stroke-width="1"/>
<path d="M731.5,81.5 V89.8" fill="none" stroke="#3a3a3a" stroke-width="1"/>
<line x1="671.6" y1="381.5" x2="671.6" y2="487.5" stroke="#555555" stroke-width="1"/>
<path d="M680.8,115 C680.8,99 690,90 705.5,90" fill="none" stroke="#303030" stroke-width="1"/>
<line x1="705.5" y1="90" x2="803.3" y2="90" stroke="#181818" stroke-width="1.25" stroke-dasharray="2.8 1.4"/>
<path d="M684.3,119.5 C684.3,103 693,93.5 709,93.5 H756.5" fill="none" stroke="#707070" stroke-width="1"/>
<line x1="671.6" y1="116.8" x2="680.8" y2="116.8" stroke="#b0b0b0" stroke-width="1" stroke-dasharray="3 2"/>
<line x1="680.8" y1="120" x2="684.3" y2="120" stroke="#505050" stroke-width="1"/>
<line x1="680.8" y1="115" x2="680.8" y2="452" stroke="#303030" stroke-width="1"/>
<line x1="684.3" y1="119.5" x2="684.3" y2="377.3" stroke="#303030" stroke-width="1"/>
<path d="M684.3,120 C695,119 705,117 715,111.5 C722,107.5 727,104.5 730,102.3 C734,99 737,94.5 740,90.9" fill="none" stroke="#505050" stroke-width="1"/>
<line x1="730" y1="102.3" x2="795" y2="102.3" stroke="#252525" stroke-width="1"/>
<line x1="795" y1="90" x2="795" y2="102.3" stroke="#555555" stroke-width="1"/>
<path d="M780.8,90 V86 C780.8,82.5 782,81.1 784,81.1 H786.2 L794.4,90" fill="none" stroke="#404040" stroke-width="1"/>
<path d="M803.3,90 C817,91 829.2,101 829.2,116 V378.6 C829.2,395 817,406.3 803.9,406.3" fill="none" stroke="#404040" stroke-width="1"/>
<path d="M671.6,382.3 C671.6,402 686,416.4 706,416.4 H756.4 V403.6" fill="none" stroke="#3a3a3a" stroke-width="1"/>
<line x1="731.5" y1="406.6" x2="731.5" y2="416.4" stroke="#3a3a3a" stroke-width="1"/>
<line x1="756.4" y1="416.4" x2="756.4" y2="487.5" stroke="#9a9a9a" stroke-width="1"/>
<line x1="699.5" y1="406.6" x2="803.9" y2="406.6" stroke="#181818" stroke-width="1.25" stroke-dasharray="2.8 1.4"/>
<line x1="700.9" y1="403.6" x2="756.4" y2="403.6" stroke="#8a8a8a" stroke-width="1"/>
<path d="M680.8,382.3 C681,396 688,406.6 699.5,406.6" fill="none" stroke="#303030" stroke-width="1"/>
<path d="M684.3,377.3 C685,393 691,403.6 700.9,403.6" fill="none" stroke="#808080" stroke-width="1"/>
<line x1="671.6" y1="380.6" x2="680.8" y2="380.6" stroke="#b0b0b0" stroke-width="1" stroke-dasharray="3 2"/>
<line x1="680.8" y1="377.3" x2="684.3" y2="377.3" stroke="#505050" stroke-width="1"/>
<path d="M684.3,377.3 C697,378 705,380 712,384 C719,387.5 726,391.5 730,395.5 C733,398.5 736,401.5 737.7,404.1" fill="none" stroke="#505050" stroke-width="1"/>
<line x1="729.5" y1="395.5" x2="849.7" y2="395.5" stroke="#6a6a6a" stroke-width="1"/>
<line x1="795.7" y1="395.5" x2="795.7" y2="406.6" stroke="#707070" stroke-width="1"/>
<path d="M780.6,406.3 V411.5 C780.8,414.5 782.5,415.9 784.8,415.9 L796.3,406.3" fill="none" stroke="#404040" stroke-width="1"/>
<line x1="786.7" y1="416.4" x2="849.7" y2="416.4" stroke="#3a3a3a" stroke-width="1"/>
<rect x="680.8" y="140" width="24.6" height="21" fill="none" stroke="#303030" stroke-width="1"/>
<line x1="684.3" y1="145.9" x2="705.4" y2="145.9" stroke="#606060" stroke-width="1" stroke-dasharray="3 2"/>
<line x1="684.3" y1="155.7" x2="705.4" y2="155.7" stroke="#909090" stroke-width="1" stroke-dasharray="3 2"/>
<line x1="654" y1="150.5" x2="724.8" y2="150.5" stroke="#4ad44a" stroke-width="1" stroke-dasharray="15 3 3 4 26 4 16"/>
<rect x="680.8" y="196.3" width="24.6" height="21" fill="none" stroke="#303030" stroke-width="1"/>
<line x1="684.3" y1="202.2" x2="705.4" y2="202.2" stroke="#606060" stroke-width="1" stroke-dasharray="3 2"/>
<line x1="684.3" y1="212" x2="705.4" y2="212" stroke="#909090" stroke-width="1" stroke-dasharray="3 2"/>
<line x1="654" y1="206.8" x2="724.8" y2="206.8" stroke="#9ee39e" stroke-width="1" stroke-dasharray="15 3 3 4 26 4 16"/>
<rect x="680.8" y="335.6" width="24.6" height="21" fill="none" stroke="#303030" stroke-width="1"/>
<line x1="684.3" y1="341.5" x2="705.4" y2="341.5" stroke="#606060" stroke-width="1" stroke-dasharray="3 2"/>
<line x1="684.3" y1="351.3" x2="705.4" y2="351.3" stroke="#909090" stroke-width="1" stroke-dasharray="3 2"/>
<line x1="654" y1="346.1" x2="724.8" y2="346.1" stroke="#4ad44a" stroke-width="1" stroke-dasharray="15 3 3 4 26 4 16"/>
<line x1="756.2" y1="59.6" x2="756.2" y2="78.6" stroke="#9a9a9a" stroke-width="1"/>
<line x1="780.8" y1="59.6" x2="780.8" y2="81" stroke="#707070" stroke-width="1"/>
<line x1="729" y1="63.2" x2="808.4" y2="63.2" stroke="#8c8c8c" stroke-width="1"/>
<polygon points="756.2,63.2 755,63.75 751.2,64.25 750.4,65.1 744.2,65.65 744.2,60.75 750.4,61.3 751.2,62.15 755,62.65" fill="#1e1e1e"/>
<polygon points="780.8,63.2 782,63.75 785.8,64.25 786.6,65.1 792.8,65.65 792.8,60.75 786.6,61.3 785.8,62.15 782,62.65" fill="#1e1e1e"/>
<line x1="780.8" y1="90" x2="780.8" y2="127.3" stroke="#505050" stroke-width="1"/>
<line x1="795" y1="102.3" x2="795" y2="127.3" stroke="#9a9a9a" stroke-width="1"/>
<line x1="753.3" y1="123.8" x2="823" y2="123.8" stroke="#8c8c8c" stroke-width="1"/>
<polygon points="780.8,123.8 779.6,124.35 775.8,124.85 775,125.7 768.8,126.25 768.8,121.35 775,121.9 775.8,122.75 779.6,123.25" fill="#1e1e1e"/>
<polygon points="795,123.8 796.2,124.35 800,124.85 800.8,125.7 807,126.25 807,121.35 800.8,121.9 800,122.75 796.2,123.25" fill="#1e1e1e"/>
<line x1="726.8" y1="150.5" x2="782.7" y2="150.5" stroke="#303030" stroke-width="1"/>
<line x1="726.8" y1="206.8" x2="752.7" y2="206.8" stroke="#b0b0b0" stroke-width="1"/>
<line x1="749.3" y1="150.5" x2="749.3" y2="206.8" stroke="#707070" stroke-width="1"/>
<polygon points="749.3,150.5 749.85,151.7 750.35,155.5 751.2,156.3 751.75,162.5 746.85,162.5 747.4,156.3 748.25,155.5 748.75,151.7" fill="#1e1e1e"/>
<polygon points="749.3,206.8 749.85,205.6 750.35,201.8 751.2,201 751.75,194.8 746.85,194.8 747.4,201 748.25,201.8 748.75,205.6" fill="#1e1e1e"/>
<line x1="779.3" y1="150.5" x2="779.3" y2="346.1" stroke="#606060" stroke-width="1"/>
<line x1="726.8" y1="346.1" x2="782.6" y2="346.1" stroke="#303030" stroke-width="1"/>
<polygon points="779.3,150.5 779.85,151.7 780.35,155.5 781.2,156.3 781.75,162.5 776.85,162.5 777.4,156.3 778.25,155.5 778.75,151.7" fill="#1e1e1e"/>
<polygon points="779.3,346.1 779.85,344.9 780.35,341.1 781.2,340.3 781.75,334.1 776.85,334.1 777.4,340.3 778.25,341.1 778.75,344.9" fill="#1e1e1e"/>
<line x1="845.3" y1="368" x2="845.3" y2="443.5" stroke="#404040" stroke-width="1"/>
<polygon points="845.3,395.5 845.85,394.3 846.35,390.5 847.2,389.7 847.75,383.5 842.85,383.5 843.4,389.7 844.25,390.5 844.75,394.3" fill="#1e1e1e"/>
<polygon points="845.3,416.4 845.85,417.6 846.35,421.4 847.2,422.2 847.75,428.4 842.85,428.4 843.4,422.2 844.25,421.4 844.75,417.6" fill="#1e1e1e"/>
<line x1="680.8" y1="448.7" x2="756.4" y2="448.7" stroke="#404040" stroke-width="1"/>
<polygon points="680.8,448.7 682,449.25 685.8,449.75 686.6,450.6 692.8,451.15 692.8,446.25 686.6,446.8 685.8,447.65 682,448.15" fill="#1e1e1e"/>
<polygon points="756.4,448.7 755.2,449.25 751.4,449.75 750.6,450.6 744.4,451.15 744.4,446.25 750.6,446.8 751.4,447.65 755.2,448.15" fill="#1e1e1e"/>
<line x1="671.6" y1="483.6" x2="756.4" y2="483.6" stroke="#404040" stroke-width="1"/>
<polygon points="671.6,483.6 672.8,484.15 676.6,484.65 677.4,485.5 683.6,486.05 683.6,481.15 677.4,481.7 676.6,482.55 672.8,483.05" fill="#1e1e1e"/>
<polygon points="756.4,483.6 755.2,484.15 751.4,484.65 750.6,485.5 744.4,486.05 744.4,481.15 750.6,481.7 751.4,482.55 755.2,483.05" fill="#1e1e1e"/>
<path d="M925.4,93.5 V81.4 H979 C997,81.4 1010.4,96 1010.4,115.5 V381.8 C1010.4,401 997,416.4 976,416.4 H925.5 V403.6" fill="none" stroke="#303030" stroke-width="1"/>
<line x1="950.5" y1="81.4" x2="950.5" y2="89.5" stroke="#303030" stroke-width="1"/>
<path d="M901.6,89.5 H976 C990,89.5 1000.9,100 1000.9,114.5 V379 C1000.9,394 990,407.3 979.5,407.3 H901.7" fill="none" stroke="#2a2a2a" stroke-width="1"/>
<path d="M925.4,93.5 H977.7 C989,93.5 997.3,104 997.3,117.3 V377.3 C997.3,391 989,403.6 980,403.6 H925.5" fill="none" stroke="#2a2a2a" stroke-width="1"/>
<line x1="950.3" y1="407.3" x2="950.3" y2="416.4" stroke="#303030" stroke-width="1" stroke-dasharray="3 1.5"/>
<line x1="1000.9" y1="116.8" x2="1010.4" y2="116.8" stroke="#b0b0b0" stroke-width="1" stroke-dasharray="3 2"/>
<line x1="1000.9" y1="380.5" x2="1010.4" y2="380.5" stroke="#b0b0b0" stroke-width="1" stroke-dasharray="3 2"/>
<path d="M886,102.3 V90 L895,81.6 H900 L901.6,89.5" fill="none" stroke="#303030" stroke-width="1"/>
<line x1="886" y1="102.3" x2="952.3" y2="102.3" stroke="#202020" stroke-width="1"/>
<path d="M886.3,395.7 V407.5 L893,413.5 C894.5,414.5 899,414.5 900.5,413.5 L901.7,407.3" fill="none" stroke="#303030" stroke-width="1"/>
<line x1="886.3" y1="395.7" x2="952.3" y2="395.7" stroke="#404040" stroke-width="1"/>
<path d="M941.8,89.5 C945,94 948,97.5 951.8,100.9 C954,103 956.5,105.5 959.1,107.3 C965,110.5 970.5,113.5 976.4,116.8 C983,118.5 990,119.3 997.3,119.8" fill="none" stroke="#404040" stroke-width="1"/>
<path d="M942.3,407.3 C945,403 948,399 952.3,395.9 C954.5,393.5 956.5,391.5 959.1,389.5 C965,386 970.5,383 976.4,380.5 C983,378.8 990,377.8 997.3,377.3" fill="none" stroke="#404040" stroke-width="1"/>
<line x1="997.3" y1="120.2" x2="1000.9" y2="120.2" stroke="#909090" stroke-width="1"/>
<line x1="1003.6" y1="120.2" x2="1048" y2="120.2" stroke="#707070" stroke-width="1"/>
<line x1="997.3" y1="377.1" x2="1000.9" y2="377.1" stroke="#909090" stroke-width="1"/>
<line x1="1003.6" y1="377.1" x2="1047" y2="377.1" stroke="#303030" stroke-width="1"/>
<line x1="1043.5" y1="120.2" x2="1043.5" y2="377.1" stroke="#b8b8b8" stroke-width="1"/>
<polygon points="1043.5,120.2 1044.05,121.4 1044.55,125.2 1045.4,126 1045.95,132.2 1041.05,132.2 1041.6,126 1042.45,125.2 1042.95,121.4" fill="#1e1e1e"/>
<polygon points="1043.5,377.1 1044.05,375.9 1044.55,372.1 1045.4,371.3 1045.95,365.1 1041.05,365.1 1041.6,371.3 1042.45,372.1 1042.95,375.9" fill="#1e1e1e"/>
<rect x="976.4" y="140.4" width="24.6" height="21" fill="none" stroke="#303030" stroke-width="1"/>
<line x1="976.4" y1="146.1" x2="997.3" y2="146.1" stroke="#707070" stroke-width="1" stroke-dasharray="3 2"/>
<line x1="976.4" y1="155.5" x2="997.3" y2="155.5" stroke="#505050" stroke-width="1" stroke-dasharray="3 2"/>
<line x1="958" y1="150.5" x2="1027.7" y2="150.5" stroke="#4ad44a" stroke-width="1" stroke-dasharray="14 3 3.5 4 21 4 3.5 3 15"/>
<rect x="976.4" y="279.3" width="24.6" height="21" fill="none" stroke="#303030" stroke-width="1"/>
<line x1="976.4" y1="285" x2="997.3" y2="285" stroke="#707070" stroke-width="1" stroke-dasharray="3 2"/>
<line x1="976.4" y1="294.4" x2="997.3" y2="294.4" stroke="#505050" stroke-width="1" stroke-dasharray="3 2"/>
<line x1="958" y1="289.4" x2="1027.7" y2="289.4" stroke="#9ee39e" stroke-width="1" stroke-dasharray="14 3 3.5 4 21 4 3.5 3 15"/>
<rect x="976.4" y="336" width="24.6" height="21" fill="none" stroke="#303030" stroke-width="1"/>
<line x1="976.4" y1="341.7" x2="997.3" y2="341.7" stroke="#707070" stroke-width="1" stroke-dasharray="3 2"/>
<line x1="976.4" y1="351.1" x2="997.3" y2="351.1" stroke="#505050" stroke-width="1" stroke-dasharray="3 2"/>
<line x1="958" y1="346.1" x2="1027.7" y2="346.1" stroke="#4ad44a" stroke-width="1" stroke-dasharray="14 3 3.5 4 21 4 3.5 3 15"/>
<line x1="976" y1="237.5" x2="1062.5" y2="237.5" stroke="url(#cy)" stroke-width="1.6"/>
<line x1="866.4" y1="62" x2="866.4" y2="171" stroke="#505050" stroke-width="1"/>
<line x1="862" y1="89.2" x2="885.6" y2="89.2" stroke="#9a9a9a" stroke-width="1"/>
<line x1="862" y1="102.3" x2="886" y2="102.3" stroke="#404040" stroke-width="1"/>
<polygon points="866.4,89.2 866.95,88 867.45,84.2 868.3,83.4 868.85,77.2 863.95,77.2 864.5,83.4 865.35,84.2 865.85,88" fill="#1e1e1e"/>
<polygon points="866.4,102.3 866.95,103.5 867.45,107.3 868.3,108.1 868.85,114.3 863.95,114.3 864.5,108.1 865.35,107.3 865.85,103.5" fill="#1e1e1e"/>
<line x1="976.4" y1="164" x2="976.4" y2="182" stroke="#404040" stroke-width="1"/>
<line x1="937" y1="177.4" x2="1030" y2="177.4" stroke="#8c8c8c" stroke-width="1"/>
<polygon points="976.4,177.4 975.2,177.95 971.4,178.45 970.6,179.3 964.4,179.85 964.4,174.95 970.6,175.5 971.4,176.35 975.2,176.85" fill="#1e1e1e"/>
<polygon points="1003.2,177.4 1004.4,177.95 1008.2,178.45 1009,179.3 1015.2,179.85 1015.2,174.95 1009,175.5 1008.2,176.35 1004.4,176.85" fill="#1e1e1e"/>
<path d="M84,589.2 H349.5 C363,589.2 374.6,599 374.6,612 V712 C374.6,727 363,737.9 348,737.9 H85.5 C70,737.9 58.3,726 58.3,712 V611 C58.3,598 70,589.2 84,589.2 Z" fill="none" stroke="#505050" stroke-width="1"/>
<line x1="58.3" y1="557.2" x2="58.3" y2="611" stroke="#505050" stroke-width="1"/>
<line x1="374.6" y1="557.2" x2="374.6" y2="612" stroke="#909090" stroke-width="1"/>
<line x1="58.3" y1="561" x2="374.6" y2="561" stroke="#c0c0c0" stroke-width="1.2"/>
<polygon points="58.8,561 60,561.55 63.8,562.05 64.6,562.9 70.8,563.45 70.8,558.55 64.6,559.1 63.8,559.95 60,560.45" fill="#1e1e1e"/>
<polygon points="374,561 372.8,561.55 369,562.05 368.2,562.9 362,563.45 362,558.55 368.2,559.1 369,559.95 372.8,560.45" fill="#1e1e1e"/>
<line x1="349.4" y1="589.2" x2="413.7" y2="589.2" stroke="#808080" stroke-width="1"/>
<line x1="349.4" y1="737.9" x2="413.7" y2="737.9" stroke="#808080" stroke-width="1"/>
<line x1="409.7" y1="589.2" x2="409.7" y2="737.9" stroke="#606060" stroke-width="1"/>
<polygon points="409.7,589.2 410.25,590.4 410.75,594.2 411.6,595 412.15,601.2 407.25,601.2 407.8,595 408.65,594.2 409.15,590.4" fill="#1e1e1e"/>
<polygon points="409.7,737.9 410.25,736.7 410.75,732.9 411.6,732.1 412.15,725.9 407.25,725.9 407.8,732.1 408.65,732.9 409.15,736.7" fill="#1e1e1e"/>
<g class="tx">
<path d="M 445.2,46.63 C 445.43,44.97 446.81,43.97 448.53,43.97 C 450.48,43.97 451.85,45.19 451.85,46.85 C 451.85,48.39 450.71,49.5 449.33,50.61 L 444.97,55.03 L 452.08,55.03 M 457.93,49.06 C 456.1,49.06 454.95,48.06 454.95,46.52 C 454.95,44.97 456.21,43.97 457.93,43.97 C 459.65,43.97 460.91,44.97 460.91,46.52 C 460.91,48.06 459.77,49.06 457.93,49.06 C 455.75,49.06 454.38,50.27 454.38,52.04 C 454.38,53.92 455.87,55.03 457.93,55.03 C 460,55.03 461.49,53.92 461.49,52.04 C 461.49,50.27 460.11,49.06 457.93,49.06 Z M 464.93,53.7 L 464.93,54.7 L 464.24,56.35 M 476.4,48.17 C 475.94,49.94 474.68,50.94 472.96,50.94 C 470.89,50.94 469.52,49.5 469.52,47.51 C 469.52,45.41 470.89,43.97 473.07,43.97 C 475.25,43.97 476.51,45.52 476.51,48.62 C 476.51,52.6 475.02,55.03 472.61,55.03 C 471.24,55.03 470.2,54.47 469.75,53.48" fill="none" stroke="#555555" stroke-width="1.05" stroke-linecap="round" stroke-linejoin="round"/>
<path d="M 130.76,112.46 C 130.76,114.35 129.76,115.54 128.22,115.54 C 126.67,115.54 125.67,114.23 125.67,112.46 C 125.67,110.68 126.67,109.38 128.22,109.38 C 129.76,109.38 130.76,110.57 130.76,112.46 C 130.76,114.71 131.97,116.13 133.74,116.13 C 135.62,116.13 136.73,114.59 136.73,112.46 C 136.73,110.33 135.62,108.79 133.74,108.79 C 131.97,108.79 130.76,110.21 130.76,112.46 Z M 135.4,105.24 L 136.4,105.24 L 138.05,105.95 M 125.67,93.88 L 125.67,99.68 L 130.54,100.15 C 129.87,99.09 129.54,98.02 129.54,96.72 C 129.54,94.59 131.09,93.17 133.08,93.17 C 135.29,93.17 136.73,94.71 136.73,96.96 C 136.73,98.62 136.06,99.8 134.96,100.51" fill="none" stroke="#555555" stroke-width="1.05" stroke-linecap="round" stroke-linejoin="round"/>
<path d="M 232.97,113.53 L 232.97,106.89 L 244.03,111.39 M 242.7,103.68 L 243.7,103.68 L 245.35,104.33 M 232.97,93.41 L 232.97,98.66 L 237.84,99.08 C 237.17,98.12 236.84,97.16 236.84,95.98 C 236.84,94.06 238.39,92.77 240.38,92.77 C 242.59,92.77 244.03,94.16 244.03,96.2 C 244.03,97.69 243.36,98.76 242.26,99.41" fill="none" stroke="#555555" stroke-width="1.05" stroke-linecap="round" stroke-linejoin="round"/>
<path d="M 96.07,241.9 L 99.23,239.97 L 99.23,249.63" fill="none" stroke="#555555" stroke-width="1.05" stroke-linecap="round" stroke-linejoin="round"/>
<path d="M 89.57,274.28 L 92.03,272.27 L 92.03,282.33" fill="none" stroke="#555555" stroke-width="1.05" stroke-linecap="round" stroke-linejoin="round"/>
<path d="M 44.68,310.73 L 44.68,303.27 L 40.17,308.49 L 46.13,308.49" fill="none" stroke="#555555" stroke-width="1.05" stroke-linecap="round" stroke-linejoin="round"/>
<path d="M 199.43,299.73 L 199.43,289.67 L 193.67,296.71 L 201.28,296.71 M 203.81,292.09 C 204.04,290.58 205.43,289.67 207.16,289.67 C 209.11,289.67 210.5,290.78 210.5,292.29 C 210.5,293.69 209.34,294.7 207.96,295.71 L 203.58,299.73 L 210.73,299.73" fill="none" stroke="#555555" stroke-width="1.05" stroke-linecap="round" stroke-linejoin="round"/>
<path d="M 345.93,299.73 L 345.93,289.67 L 340.17,296.71 L 347.78,296.71 M 350.31,292.09 C 350.54,290.58 351.93,289.67 353.66,289.67 C 355.61,289.67 357,290.78 357,292.29 C 357,293.69 355.84,294.7 354.46,295.71 L 350.08,299.73 L 357.23,299.73" fill="none" stroke="#555555" stroke-width="1.05" stroke-linecap="round" stroke-linejoin="round"/>
<path d="M 290.57,236.94 L 293.43,234.67 L 293.43,246.03 M 301.9,234.67 C 299.27,234.67 298.2,237.17 298.2,240.35 C 298.2,243.53 299.27,246.03 301.9,246.03 C 304.52,246.03 305.59,243.53 305.59,240.35 C 305.59,237.17 304.52,234.67 301.9,234.67 Z M 309.17,244.66 L 309.17,245.69 L 308.45,247.39 M 320.61,234.67 L 314.77,234.67 L 314.29,239.67 C 315.37,238.99 316.44,238.65 317.75,238.65 C 319.9,238.65 321.33,240.24 321.33,242.28 C 321.33,244.55 319.78,246.03 317.51,246.03 C 315.84,246.03 314.65,245.35 313.94,244.21" fill="none" stroke="#555555" stroke-width="1.05" stroke-linecap="round" stroke-linejoin="round"/>
<path d="M 447.27,292.05 L 447.27,285.56 L 451.72,289.28 C 451.72,286.52 453.13,285.08 454.98,285.08 C 456.93,285.08 458.13,286.64 458.13,288.8 C 458.13,290.61 457.48,291.93 456.39,292.53 M 451.4,275.47 C 453.13,275.95 454.11,277.27 454.11,279.07 C 454.11,281.24 452.7,282.68 450.75,282.68 C 448.68,282.68 447.27,281.24 447.27,278.95 C 447.27,276.67 448.79,275.35 451.83,275.35 C 455.74,275.35 458.13,276.91 458.13,279.43 C 458.13,280.88 457.58,281.96 456.61,282.44 M 456.82,271.63 L 457.8,271.63 L 459.43,272.35 M 447.27,260.09 L 447.27,265.98 L 452.05,266.46 C 451.4,265.38 451.07,264.3 451.07,262.98 C 451.07,260.81 452.59,259.37 454.55,259.37 C 456.72,259.37 458.13,260.93 458.13,263.22 C 458.13,264.9 457.48,266.1 456.39,266.82" fill="none" stroke="#555555" stroke-width="1.05" stroke-linecap="round" stroke-linejoin="round"/>
<path d="M 350.97,244.03 L 350.97,237.42 L 362.03,241.89 M 350.97,229.31 L 350.97,234.54 L 355.84,234.96 C 355.17,234 354.84,233.04 354.84,231.87 C 354.84,229.95 356.39,228.67 358.38,228.67 C 360.59,228.67 362.03,230.06 362.03,232.08 C 362.03,233.58 361.36,234.64 360.26,235.28" fill="none" stroke="#555555" stroke-width="1.05" stroke-linecap="round" stroke-linejoin="round"/>
<path d="M 536.37,249.89 C 538.01,250.38 538.93,251.75 538.93,253.61 C 538.93,255.84 537.6,257.33 535.75,257.33 C 533.81,257.33 532.47,255.84 532.47,253.48 C 532.47,251.13 533.91,249.76 536.78,249.76 C 540.47,249.76 542.73,251.38 542.73,253.98 C 542.73,255.47 542.21,256.58 541.29,257.08 M 532.47,243.32 C 532.47,246.04 534.73,247.16 537.6,247.16 C 540.47,247.16 542.73,246.04 542.73,243.32 C 542.73,240.59 540.47,239.47 537.6,239.47 C 534.73,239.47 532.47,240.59 532.47,243.32 Z" fill="none" stroke="#555555" stroke-width="1.05" stroke-linecap="round" stroke-linejoin="round"/>
<path d="M 571.98,249.89 C 573.67,250.38 574.62,251.75 574.62,253.61 C 574.62,255.84 573.25,257.33 571.35,257.33 C 569.34,257.33 567.97,255.84 567.97,253.48 C 567.97,251.13 569.45,249.76 572.41,249.76 C 576.21,249.76 578.53,251.38 578.53,253.98 C 578.53,255.47 578,256.58 577.05,257.08 M 567.97,240.22 L 567.97,246.29 L 572.62,246.79 C 571.98,245.67 571.67,244.56 571.67,243.19 C 571.67,240.96 573.14,239.47 575.04,239.47 C 577.16,239.47 578.53,241.08 578.53,243.44 C 578.53,245.18 577.89,246.42 576.84,247.16" fill="none" stroke="#555555" stroke-width="1.05" stroke-linecap="round" stroke-linejoin="round"/>
<path d="M 210.47,351.74 L 213.29,349.57 L 213.29,360.43 M 219.16,359.12 L 219.16,360.1 L 218.45,361.73 M 230.42,349.57 L 224.67,349.57 L 224.2,354.35 C 225.26,353.7 226.32,353.37 227.61,353.37 C 229.72,353.37 231.13,354.89 231.13,356.85 C 231.13,359.02 229.6,360.43 227.37,360.43 C 225.73,360.43 224.56,359.78 223.85,358.69" fill="none" stroke="#555555" stroke-width="1.05" stroke-linecap="round" stroke-linejoin="round"/>
<path d="M 132.14,399.86 C 132.14,401.75 131.11,402.94 129.51,402.94 C 127.9,402.94 126.87,401.63 126.87,399.86 C 126.87,398.08 127.9,396.78 129.51,396.78 C 131.11,396.78 132.14,397.97 132.14,399.86 C 132.14,402.11 133.4,403.53 135.23,403.53 C 137.18,403.53 138.33,401.99 138.33,399.86 C 138.33,397.73 137.18,396.19 135.23,396.19 C 133.4,396.19 132.14,397.61 132.14,399.86 Z M 136.95,392.64 L 137.98,392.64 L 139.7,393.35 M 126.87,381.28 L 126.87,387.08 L 131.91,387.55 C 131.23,386.49 130.88,385.42 130.88,384.12 C 130.88,381.99 132.49,380.57 134.55,380.57 C 136.84,380.57 138.33,382.11 138.33,384.36 C 138.33,386.02 137.64,387.2 136.49,387.91" fill="none" stroke="#555555" stroke-width="1.05" stroke-linecap="round" stroke-linejoin="round"/>
<path d="M 92.81,378.25 C 93.05,376.58 94.47,375.57 96.26,375.57 C 98.28,375.57 99.7,376.8 99.7,378.47 C 99.7,380.03 98.51,381.15 97.09,382.27 L 92.57,386.73 L 99.94,386.73 M 103.51,385.39 L 103.51,386.39 L 102.79,388.07 M 114.91,375.57 L 109.09,375.57 L 108.62,380.48 C 109.69,379.81 110.76,379.48 112.06,379.48 C 114.2,379.48 115.63,381.04 115.63,383.05 C 115.63,385.28 114.08,386.73 111.82,386.73 C 110.16,386.73 108.97,386.06 108.26,384.94" fill="none" stroke="#555555" stroke-width="1.05" stroke-linecap="round" stroke-linejoin="round"/>
<path d="M 308.71,353.97 L 314.59,353.97 L 311.21,357.89 C 313.72,357.89 315.03,359.13 315.03,360.76 C 315.03,362.48 313.61,363.53 311.65,363.53 C 310.02,363.53 308.82,362.95 308.27,362" fill="none" stroke="#555555" stroke-width="1.05" stroke-linecap="round" stroke-linejoin="round"/>
<path d="M 460.27,354.42 L 463.08,352.37 L 463.08,362.63 M 468.91,361.4 L 468.91,362.32 L 468.21,363.86 M 480.13,352.37 L 474.4,352.37 L 473.94,356.88 C 474.99,356.27 476.04,355.96 477.32,355.96 C 479.43,355.96 480.83,357.4 480.83,359.24 C 480.83,361.29 479.31,362.63 477.09,362.63 C 475.46,362.63 474.29,362.01 473.59,360.99" fill="none" stroke="#555555" stroke-width="1.05" stroke-linecap="round" stroke-linejoin="round"/>
<path d="M 429.78,468.5 C 428.21,468.26 427.27,466.88 427.27,465.14 C 427.27,463.17 428.42,461.78 429.99,461.78 C 431.45,461.78 432.5,462.94 433.55,464.33 L 437.73,468.73 L 437.73,461.55 M 436.47,458.08 L 437.41,458.08 L 438.98,458.77 M 427.27,446.97 L 427.27,452.64 L 431.87,453.1 C 431.25,452.06 430.93,451.02 430.93,449.74 C 430.93,447.66 432.4,446.27 434.28,446.27 C 436.37,446.27 437.73,447.78 437.73,449.98 C 437.73,451.6 437.1,452.75 436.05,453.45" fill="none" stroke="#555555" stroke-width="1.05" stroke-linecap="round" stroke-linejoin="round"/>
<path d="M 126.58,444.27 L 133.38,444.27 L 129.48,448.35 C 132.38,448.35 133.89,449.65 133.89,451.34 C 133.89,453.13 132.25,454.23 129.98,454.23 C 128.09,454.23 126.7,453.63 126.07,452.63 M 137.67,453.03 L 137.67,453.93 L 136.91,455.42 M 149.77,444.27 L 143.59,444.27 L 143.09,448.65 C 144.22,448.06 145.36,447.76 146.75,447.76 C 149.01,447.76 150.53,449.15 150.53,450.94 C 150.53,452.93 148.89,454.23 146.49,454.23 C 144.73,454.23 143.47,453.63 142.71,452.63" fill="none" stroke="#555555" stroke-width="1.05" stroke-linecap="round" stroke-linejoin="round"/>
<path d="M 218.97,426.48 L 221.96,424.47 L 221.96,434.53 M 228.2,433.32 L 228.2,434.23 L 227.45,435.73 M 240.66,428.29 C 240.16,429.9 238.79,430.81 236.92,430.81 C 234.68,430.81 233.18,429.5 233.18,427.69 C 233.18,425.78 234.68,424.47 237.04,424.47 C 239.41,424.47 240.78,425.88 240.78,428.7 C 240.78,432.32 239.16,434.53 236.55,434.53 C 235.05,434.53 233.93,434.02 233.43,433.12 M 250.38,424.47 L 244.27,424.47 L 243.77,428.9 C 244.9,428.29 246.02,427.99 247.39,427.99 C 249.63,427.99 251.13,429.4 251.13,431.21 C 251.13,433.22 249.51,434.53 247.14,434.53 C 245.39,434.53 244.15,433.92 243.4,432.92" fill="none" stroke="#555555" stroke-width="1.05" stroke-linecap="round" stroke-linejoin="round"/>
<path d="M 263.47,470.94 L 266.35,468.97 L 266.35,478.83 M 271.39,471.34 C 271.63,469.86 273.07,468.97 274.87,468.97 C 276.91,468.97 278.35,470.06 278.35,471.53 C 278.35,472.91 277.15,473.9 275.71,474.89 L 271.15,478.83 L 278.59,478.83 M 284.71,468.97 C 282.07,468.97 280.99,471.14 280.99,473.9 C 280.99,476.66 282.07,478.83 284.71,478.83 C 287.35,478.83 288.43,476.66 288.43,473.9 C 288.43,471.14 287.35,468.97 284.71,468.97 Z" fill="none" stroke="#555555" stroke-width="1.05" stroke-linecap="round" stroke-linejoin="round"/>
<path d="M 264.37,496.08 L 267.26,493.97 L 267.26,504.53 M 272.56,493.97 L 279.07,493.97 L 275.33,498.3 C 278.1,498.3 279.55,499.67 279.55,501.47 C 279.55,503.37 277.98,504.53 275.82,504.53 C 274.01,504.53 272.68,503.89 272.08,502.84 M 288.7,493.97 L 282.8,493.97 L 282.32,498.62 C 283.4,497.98 284.49,497.67 285.81,497.67 C 287.98,497.67 289.43,499.14 289.43,501.04 C 289.43,503.16 287.86,504.53 285.57,504.53 C 283.89,504.53 282.68,503.89 281.96,502.84" fill="none" stroke="#555555" stroke-width="1.05" stroke-linecap="round" stroke-linejoin="round"/>
<path d="M 765.47,50.47 L 771.53,50.47 L 767.43,59.93" fill="none" stroke="#9a9a9a" stroke-width="1.05" stroke-linecap="round" stroke-linejoin="round"/>
<path d="M 789.89,120.53 L 789.89,110.77 L 784.77,117.6 L 791.53,117.6" fill="none" stroke="#555555" stroke-width="1.05" stroke-linecap="round" stroke-linejoin="round"/>
<path d="M 738.66,188.43 L 736.57,185.27 L 747.03,185.27 M 737.83,172.53 C 736.99,173.32 736.57,174.37 736.57,175.68 C 736.57,178.44 738.87,179.76 742.32,179.76 C 745.46,179.76 747.03,178.31 747.03,175.81 C 747.03,173.45 745.67,171.87 743.68,171.87 C 741.7,171.87 740.44,173.45 740.44,175.68 C 740.44,177.65 741.28,179.23 742.85,179.76" fill="none" stroke="#555555" stroke-width="1.05" stroke-linecap="round" stroke-linejoin="round"/>
<path d="M 764.67,257.98 L 764.67,263.62 L 769.27,264.08 C 768.65,263.05 768.33,262.01 768.33,260.75 C 768.33,258.67 769.8,257.29 771.68,257.29 C 773.77,257.29 775.13,258.79 775.13,260.98 C 775.13,262.59 774.5,263.74 773.45,264.43 M 764.67,248.55 L 764.67,254.19 L 769.27,254.65 C 768.65,253.61 768.33,252.58 768.33,251.31 C 768.33,249.24 769.8,247.86 771.68,247.86 C 773.77,247.86 775.13,249.36 775.13,251.54 C 775.13,253.15 774.5,254.3 773.45,254.99 M 773.87,244.41 L 774.81,244.41 L 776.38,245.1 M 764.67,233.36 L 764.67,239 L 769.27,239.46 C 768.65,238.43 768.33,237.39 768.33,236.12 C 768.33,234.05 769.8,232.67 771.68,232.67 C 773.77,232.67 775.13,234.17 775.13,236.35 C 775.13,237.96 774.5,239.12 773.45,239.81" fill="none" stroke="#555555" stroke-width="1.05" stroke-linecap="round" stroke-linejoin="round"/>
<path d="M 832.92,403.21 C 832.02,403.85 831.57,404.71 831.57,405.79 C 831.57,408.04 834.05,409.11 837.76,409.11 C 841.14,409.11 842.83,407.93 842.83,405.89 C 842.83,403.96 841.36,402.67 839.23,402.67 C 837.09,402.67 835.74,403.96 835.74,405.79 C 835.74,407.4 836.64,408.68 838.33,409.11" fill="none" stroke="#555555" stroke-width="1.05" stroke-linecap="round" stroke-linejoin="round"/>
<path d="M 705.21,436 C 705.45,434.29 706.87,433.27 708.66,433.27 C 710.68,433.27 712.1,434.52 712.1,436.22 C 712.1,437.81 710.91,438.95 709.49,440.09 L 704.97,444.63 L 712.34,444.63 M 714.72,435.54 L 717.57,433.27 L 717.57,444.63 M 723.51,443.26 L 723.51,444.29 L 722.8,445.99 M 734.91,433.27 L 729.09,433.27 L 728.62,438.27 C 729.69,437.59 730.76,437.25 732.06,437.25 C 734.2,437.25 735.63,438.84 735.63,440.88 C 735.63,443.15 734.08,444.63 731.83,444.63 C 730.16,444.63 728.97,443.95 728.26,442.81" fill="none" stroke="#555555" stroke-width="1.05" stroke-linecap="round" stroke-linejoin="round"/>
<path d="M 708.9,472.9 C 709.12,471.26 710.47,470.27 712.16,470.27 C 714.07,470.27 715.42,471.48 715.42,473.12 C 715.42,474.65 714.3,475.75 712.95,476.85 L 708.67,481.23 L 715.65,481.23 M 723.53,481.23 L 723.53,470.27 L 717.9,477.94 L 725.33,477.94" fill="none" stroke="#555555" stroke-width="1.05" stroke-linecap="round" stroke-linejoin="round"/>
<path d="M 1030.87,277.93 L 1030.87,270.8 L 1042.43,275.63 M 1030.87,268.04 L 1030.87,261.83 L 1035.61,265.4 C 1035.61,262.75 1037.11,261.37 1039.08,261.37 C 1041.16,261.37 1042.43,262.87 1042.43,264.94 C 1042.43,266.66 1041.73,267.93 1040.58,268.5" fill="none" stroke="#555555" stroke-width="1.05" stroke-linecap="round" stroke-linejoin="round"/>
<path d="M 851.47,168.58 L 851.47,162.58 L 856.01,166.03 C 856.01,163.47 857.44,162.14 859.32,162.14 C 861.31,162.14 862.53,163.58 862.53,165.58 C 862.53,167.25 861.86,168.47 860.76,169.03 M 861.2,158.81 L 862.2,158.81 L 863.85,159.47 M 851.47,148.14 L 851.47,153.58 L 856.34,154.03 C 855.67,153.03 855.34,152.03 855.34,150.81 C 855.34,148.81 856.89,147.47 858.88,147.47 C 861.09,147.47 862.53,148.92 862.53,151.03 C 862.53,152.58 861.86,153.69 860.76,154.36" fill="none" stroke="#555555" stroke-width="1.05" stroke-linecap="round" stroke-linejoin="round"/>
<path d="M 938.97,164.97 L 946.53,164.97 L 941.41,175.03" fill="none" stroke="#555555" stroke-width="1.05" stroke-linecap="round" stroke-linejoin="round"/>
<path d="M 203.87,550.38 C 202.01,550.38 200.85,549.32 200.85,547.68 C 200.85,546.03 202.13,544.97 203.87,544.97 C 205.62,544.97 206.89,546.03 206.89,547.68 C 206.89,549.32 205.73,550.38 203.87,550.38 C 201.67,550.38 200.27,551.67 200.27,553.55 C 200.27,555.55 201.78,556.73 203.87,556.73 C 205.96,556.73 207.47,555.55 207.47,553.55 C 207.47,551.67 206.08,550.38 203.87,550.38 Z M 216.76,549.44 C 216.3,551.32 215.02,552.38 213.28,552.38 C 211.19,552.38 209.8,550.85 209.8,548.73 C 209.8,546.5 211.19,544.97 213.4,544.97 C 215.6,544.97 216.88,546.62 216.88,549.91 C 216.88,554.14 215.37,556.73 212.93,556.73 C 211.54,556.73 210.49,556.14 210.03,555.08 M 220.02,555.55 L 220.02,556.73 M 231.63,544.97 L 225.94,544.97 L 225.48,550.14 C 226.52,549.44 227.57,549.09 228.84,549.09 C 230.93,549.09 232.33,550.73 232.33,552.85 C 232.33,555.2 230.82,556.73 228.61,556.73 C 226.99,556.73 225.82,556.02 225.13,554.85" fill="none" stroke="#5a5a5a" stroke-width="1.05" stroke-linecap="round" stroke-linejoin="round"/>
<path d="M 407.33,665.74 L 397.47,665.74 L 404.37,670.93 L 404.37,664.08 M 399.84,661.8 C 398.36,661.59 397.47,660.35 397.47,658.79 C 397.47,657.02 398.56,655.78 400.03,655.78 C 401.41,655.78 402.4,656.82 403.39,658.06 L 407.33,662 L 407.33,655.57" fill="none" stroke="#555555" stroke-width="1.05" stroke-linecap="round" stroke-linejoin="round"/>
<text x="326" y="24.3" font-size="12" fill="#f4f4f4" text-anchor="middle">~ HSG TOL</text>
<text x="150" y="767.22" font-size="9" fill="#f3f3f3" text-anchor="middle" textLength="280" lengthAdjust="spacingAndGlyphs">~ - - - - - - - - - - - - - - - - - - - + FRONT - - - - - -</text>
</g>
</svg></body></html>
